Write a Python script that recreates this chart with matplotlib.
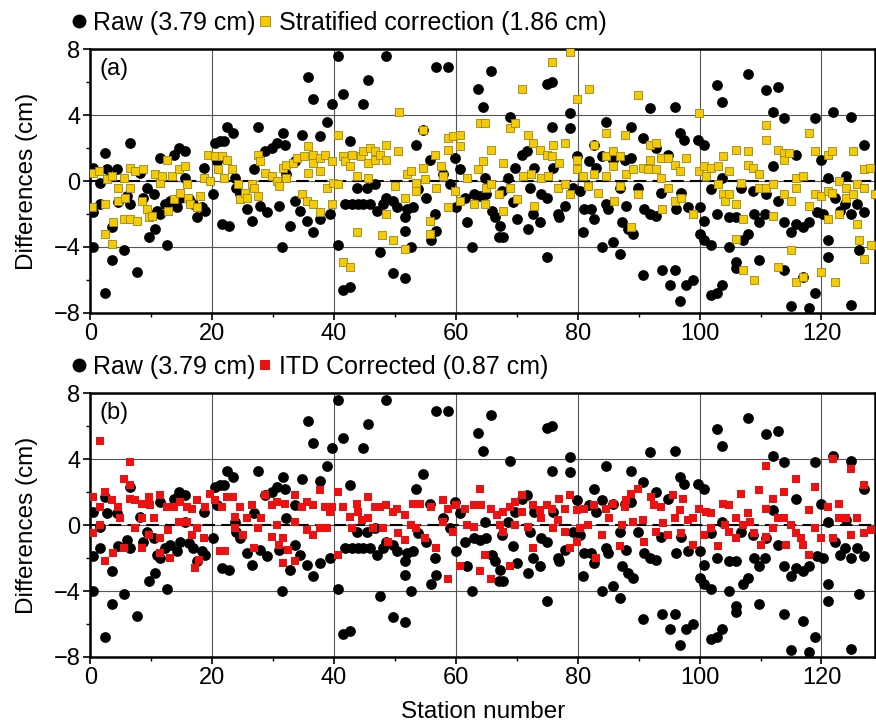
import numpy as np
import matplotlib
matplotlib.use('Agg')
import matplotlib.pyplot as plt
from matplotlib.lines import Line2D
from matplotlib.ticker import MultipleLocator

matplotlib.rcParams['font.family'] = 'sans-serif'
matplotlib.rcParams['font.sans-serif'] = ['Liberation Sans']
matplotlib.rcParams['font.size'] = 17

# Raw differences (station number, cm) - same series in both panels
raw_points = [
    (0.5, 0.8), (0.5, -1.9), (0.5, -4.0), (1.6, -0.1), (1.6, -1.4), (2.5, 1.7), (2.5, -6.8), (2.7, 0.7),
    (3.6, -2.8), (3.6, -4.8), (4.4, 0.7), (4.6, -1.3), (5.5, -4.2), (6.0, -0.9), (6.6, 2.3), (6.6, -1.4),
    (7.7, -5.5), (8.2, 0.5), (8.7, -1.0), (9.3, -0.4), (9.6, -3.4), (10.4, -0.8), (10.7, -2.9), (10.9, -1.8),
    (11.5, 1.4), (11.5, -2.0), (12.3, -1.4), (12.6, -3.9), (13.1, -1.2), (13.7, 1.6), (14.2, -1.6), (14.5, 2.0),
    (14.8, -1.0), (15.6, 1.8), (15.6, 0.2), (16.2, -1.1), (16.9, -1.4), (17.5, -2.2), (18.3, -1.6), (18.6, 0.8),
    (18.9, -1.8), (20.2, -0.8), (20.5, 2.3), (20.8, 1.2), (21.3, 2.4), (21.6, -2.6), (21.9, 2.4), (22.4, 3.3),
    (22.7, -2.7), (23.5, 2.9), (23.8, 0.2), (24.0, -0.4), (24.6, -0.8), (25.7, -1.7), (26.5, -2.4), (26.8, 0.7),
    (27.6, 3.3), (27.9, -1.5), (28.7, 1.8), (29.0, -1.9), (29.8, 2.0), (30.6, 2.3), (30.9, -1.5), (31.4, -4.0),
    (31.7, 2.9), (31.9, 2.2), (32.2, 0.4), (32.8, -2.7), (33.6, 1.2), (33.6, -1.2), (34.4, -1.8), (34.7, 2.8),
    (35.5, -2.4), (35.8, 6.3), (36.6, 5.0), (36.6, -3.1), (37.7, 2.7), (37.7, -2.3), (38.8, 3.6), (39.3, -2.0),
    (39.6, 4.7), (40.7, 7.6), (40.7, -3.9), (41.5, 5.3), (41.5, -6.6), (41.8, -1.4), (42.6, 2.4), (42.6, -6.4),
    (42.9, -1.4), (43.7, -0.4), (44.0, -1.4), (44.8, 4.7), (44.8, -1.4), (45.6, 6.1), (45.4, -0.4), (45.9, -1.4),
    (46.7, -0.2), (47.0, -1.8), (47.5, -4.3), (48.1, -1.4), (48.6, 7.6), (48.6, -1.0), (49.7, -1.2), (49.7, -5.6),
    (50.3, -1.6), (51.6, -2.2), (51.6, -3.0), (51.6, -5.9), (51.9, -1.7), (52.7, -4.0), (53.0, -1.6), (53.5, 2.2),
    (53.8, -0.5), (54.6, 3.1), (55.1, -1.0), (55.7, 1.3), (56.0, -3.6), (56.5, -2.0), (56.8, -3.0), (56.8, 6.9),
    (57.9, 0.4), (58.7, 6.9), (59.0, -0.2), (59.8, 1.4), (60.1, -1.6), (60.7, 0.7), (61.5, -1.0), (61.8, -2.5),
    (62.6, -4.0), (62.9, -0.8), (63.7, 5.6), (64.0, -0.9), (64.5, 4.5), (64.8, 0.2), (65.8, 6.7), (65.0, -0.8),
    (65.9, -1.8), (66.4, -2.2), (67.0, -3.4), (67.2, -2.7), (67.8, -3.4), (67.5, -0.6), (68.6, 0.2), (68.9, 3.9),
    (69.4, -1.3), (69.7, 0.8), (70.0, -2.3), (70.8, 1.6), (71.6, 1.8), (71.9, -2.9), (72.1, -0.4), (72.7, -2.0),
    (72.9, 0.8), (73.8, -2.5), (74.0, -0.8), (74.9, -1.0), (74.9, -4.6), (74.9, 5.9), (75.7, 6.0), (75.7, 3.3),
    (75.9, 0.8), (76.8, -2.0), (77.0, -2.2), (77.9, -1.5), (78.7, 4.1), (78.7, 3.2), (79.2, -0.4), (79.8, 1.5),
    (80.3, -0.6), (80.9, -3.1), (81.1, -1.7), (81.9, 1.2), (82.2, -1.7), (82.7, 2.2), (82.7, -2.3), (83.0, 0.8),
    (83.9, -4.0), (83.9, 1.5), (84.7, 3.6), (84.7, -1.4), (85.0, -1.7), (85.8, 1.3), (85.8, -3.7), (86.9, -4.4),
    (86.9, -0.4), (87.2, -2.5), (87.7, 1.3), (87.9, -1.5), (88.2, -2.9), (88.8, 3.3), (88.8, 1.4), (89.1, -3.2),
    (89.9, -0.4), (90.7, 2.6), (90.7, -5.7), (90.9, -1.7), (91.8, -2.0), (91.8, 4.4), (92.9, 2.0), (92.9, -2.1),
    (93.7, -0.7), (93.9, -5.4), (94.8, 1.6), (95.1, -6.3), (95.9, 4.5), (95.9, -5.4), (96.2, -1.7), (96.7, 2.9),
    (96.7, -7.3), (97.0, -0.7), (97.5, 2.5), (97.8, -6.3), (98.1, -1.6), (98.9, -6.0), (99.7, 2.5), (100.0, -1.6),
    (100.0, -3.2), (100.8, 2.2), (100.8, -2.4), (100.8, -3.6), (101.9, -3.9), (101.9, -0.5), (101.9, -6.9), (102.9, 5.8),
    (102.9, -2.0), (102.9, -6.8), (103.7, 4.8), (103.7, 0.2), (103.7, -6.3), (104.9, -2.2), (104.9, -4.0), (106.0, -2.2),
    (106.0, -4.9), (106.0, -5.3), (106.8, -0.4), (107.1, -3.6), (107.9, 6.5), (107.9, -3.2), (108.7, -0.6), (109.0, -2.0),
    (109.8, -2.5), (109.8, -4.8), (110.7, -2.0), (110.9, 5.5), (110.9, -0.8), (112.0, 4.2), (112.0, 0.9), (112.8, 5.7),
    (112.8, -1.2), (113.9, 3.8), (113.9, -2.5), (113.9, -5.4), (115.0, -3.1), (115.0, -7.6), (115.8, 1.6), (115.8, -2.6),
    (116.9, -2.8), (116.9, -5.8), (118.0, -2.5), (118.0, -7.7), (118.9, 3.8), (118.9, -6.8), (119.2, -1.9), (120.0, 1.3),
    (120.2, -2.0), (121.0, 0.2), (121.0, -3.6), (121.0, -4.6), (121.9, 4.2), (122.2, -1.0), (123.0, -1.8), (123.8, -1.4),
    (124.1, 0.3), (124.9, 3.9), (124.9, -2.0), (124.9, -7.5), (125.9, -1.4), (126.2, -4.2), (127.0, 2.2), (127.0, -1.9),
]

# After stratified correction (panel a)
strat_points = [
    (0.5, 0.5), (1.4, 0.6), (0.3, -1.6), (2.5, -1.4), (2.5, -3.2), (3.6, -3.8), (2.7, 0.1), (3.6, 0.3),
    (3.8, -2.5), (4.6, -1.2), (4.6, -0.4), (5.5, 0.2), (5.5, -2.3), (5.7, -1.0), (6.6, 0.8), (6.6, -0.4),
    (6.6, -2.3), (7.4, 0.6), (7.7, -2.4), (8.5, -1.2), (8.7, 0.7), (9.3, -1.7), (9.6, -2.2), (10.1, -2.1),
    (10.7, 0.4), (11.5, -0.1), (11.8, 0.3), (12.6, 1.3), (12.8, -1.8), (13.4, 0.3), (13.7, -1.1), (14.5, 0.7),
    (14.8, -0.7), (15.6, 0.9), (15.8, -0.2), (16.1, -1.0), (16.4, -1.4), (17.5, -1.6), (18.0, -0.9), (18.6, 0.2),
    (19.4, 1.6), (19.7, 0.0), (20.5, 1.5), (21.0, 0.7), (21.6, 1.5), (21.9, 0.2), (22.4, 1.3), (23.2, 0.7),
    (24.3, -0.2), (24.6, -1.1), (25.4, -0.7), (25.7, -1.0), (26.5, -0.2), (26.8, -0.4), (27.6, 1.6), (27.6, -0.9),
    (27.9, 1.2), (28.7, 0.5), (29.8, 0.3), (30.6, 0.0), (30.9, -0.3), (31.7, 0.8), (32.2, 1.0), (32.2, 0.2),
    (33.3, 1.1), (33.9, 1.4), (34.7, -0.8), (35.0, 1.5), (35.5, -1.2), (35.8, 2.1), (35.8, 0.5), (36.6, 1.6),
    (36.6, 1.1), (36.6, -1.4), (37.7, 0.6), (37.7, -1.9), (37.7, 1.4), (38.5, 1.6), (38.8, -0.4), (39.6, 1.2),
    (39.6, -1.4), (39.9, -0.1), (40.7, 2.8), (40.7, -0.2), (41.5, 1.5), (41.5, -4.9), (41.8, 1.2), (42.6, 0.9),
    (42.6, -5.2), (42.9, 1.6), (43.7, -3.1), (43.7, 0.3), (44.5, 1.5), (44.8, 1.8), (45.6, 1.1), (45.6, 0.2),
    (45.9, 2.0), (46.7, 1.8), (46.7, 1.3), (47.5, 1.6), (47.8, -3.3), (48.6, 2.2), (48.6, 1.3), (48.6, -2.0),
    (49.7, -3.6), (50.0, -0.3), (50.5, 1.8), (50.7, 4.2), (51.6, -1.0), (51.6, -4.1), (51.9, 0.4), (52.7, 0.6),
    (53.5, -0.1), (53.5, -0.6), (54.6, 3.1), (54.6, 0.8), (54.9, 0.1), (55.7, -2.4), (55.7, -3.2), (56.5, 1.6),
    (56.8, -0.4), (57.6, 0.9), (57.9, 0.3), (58.7, 2.6), (58.7, 1.9), (58.7, -1.6), (59.6, 2.7), (59.8, -0.6),
    (60.7, 2.8), (60.7, 2.1), (60.7, -1.2), (61.8, 0.2), (62.9, -1.4), (63.7, 0.7), (63.9, 3.5), (64.8, 3.5),
    (64.5, 1.2), (65.0, -0.4), (64.8, -1.4), (65.8, 1.9), (65.8, -0.2), (67.0, -0.8), (67.8, 1.1), (67.8, -1.8),
    (68.9, 3.2), (68.9, -0.4), (69.7, 3.5), (70.0, -1.1), (70.8, 5.6), (71.0, 0.3), (71.9, 2.8), (72.4, 0.4),
    (72.7, 2.3), (72.9, -1.5), (73.8, 1.9), (74.0, 0.2), (74.9, 1.6), (75.1, 0.3), (75.7, 7.2), (75.7, 1.5),
    (75.9, 2.2), (76.8, -0.4), (77.0, 1.1), (77.9, 2.3), (77.9, -0.2), (78.7, 7.8), (78.7, -0.8), (79.8, 5.0),
    (79.8, 1.3), (79.8, 0.7), (80.9, 0.3), (81.7, -0.3), (81.9, 5.6), (82.7, 2.2), (82.7, 0.4), (83.3, -0.7),
    (84.7, 0.3), (84.7, 2.9), (84.7, 1.5), (85.8, 1.8), (85.8, 0.9), (86.0, -1.2), (86.9, 1.5), (86.9, -0.3),
    (87.7, 2.8), (87.9, 0.4), (88.8, -2.8), (89.1, 0.7), (89.9, 5.2), (89.9, -0.8), (90.7, 0.8), (91.5, 0.7),
    (91.8, 2.2), (91.8, 1.3), (92.9, 2.3), (92.9, 0.7), (93.7, 1.4), (93.7, 0.2), (93.9, -1.7), (94.8, -0.4),
    (94.8, 1.4), (95.9, 1.0), (95.9, -1.2), (96.7, 0.6), (97.0, -1.0), (97.8, 1.4), (98.9, -2.0), (99.9, 4.1),
    (99.9, 0.6), (100.8, 0.9), (101.1, 0.3), (101.9, 0.8), (103.0, 0.9), (103.0, -0.2), (103.8, 1.5), (103.8, -0.8),
    (104.1, -1.2), (104.9, 0.6), (104.9, -0.8), (106.0, 1.9), (106.0, -1.4), (106.0, -3.5), (106.8, -0.1), (107.1, -2.3),
    (107.1, -5.4), (107.9, 1.8), (107.9, 1.0), (108.7, 0.8), (109.0, -6.0), (109.8, 0.4), (109.8, -0.4), (110.9, 3.4),
    (110.9, 2.5), (110.9, -0.4), (112.0, -0.2), (112.0, -2.1), (112.8, 1.9), (112.8, -5.2), (113.9, 1.7), (113.9, 1.3),
    (113.9, -0.8), (114.6, 1.7), (115.0, -1.2), (115.0, -4.2), (115.8, 0.2), (115.8, -0.4), (115.8, -6.1), (116.9, 0.3),
    (116.9, -5.8), (118.0, 2.9), (118.0, -1.5), (118.9, 1.8), (118.9, -0.8), (120.0, -0.9), (120.0, -5.5), (121.0, 1.6),
    (121.0, -0.6), (121.0, -2.3), (121.8, 1.8), (121.8, -0.7), (122.2, -6.1), (122.8, 0.0), (122.8, -2.0), (124.0, -0.4),
    (124.0, -1.0), (125.1, 1.8), (125.1, -0.8), (125.9, -0.2), (125.9, -2.6), (126.2, -3.6), (127.0, 0.7), (127.0, -0.4),
    (127.0, -4.7), (127.9, 0.8), (128.2, -3.9), (128.7, -0.8),
]

# After ITD correction (panel b)
itd_points = [
    (1.6, 5.1), (0.5, 1.7), (0.5, -0.5), (1.6, 1.1), (1.6, 0.0), (2.5, 2.0), (2.5, -2.2), (3.6, 1.5),
    (3.8, -1.7), (4.6, 1.1), (4.9, 0.4), (5.5, 2.8), (6.6, 3.8), (6.6, 2.4), (6.6, 1.6), (5.5, -1.4),
    (7.4, 1.5), (7.4, -0.2), (8.5, 0.4), (8.5, -1.4), (8.5, 1.3), (9.6, 1.7), (9.6, -0.6), (9.8, 1.2),
    (10.4, 0.4), (11.5, 1.8), (11.5, -0.8), (11.5, -1.7), (12.6, 1.1), (12.8, -0.3), (13.1, -2.0), (13.7, 1.1),
    (14.5, 0.2), (14.8, 1.4), (15.8, 1.1), (15.8, 0.2), (16.7, 1.0), (16.7, -0.6), (17.5, 1.5), (17.5, -0.2),
    (17.8, -2.1), (17.2, -2.6), (18.6, -0.8), (18.9, 1.1), (19.7, 1.9), (20.5, 1.5), (21.3, -1.6), (22.1, -1.6),
    (21.6, 1.1), (22.4, 1.7), (23.5, 1.7), (23.8, 0.5), (23.8, -0.2), (24.6, 1.1), (25.1, -0.6), (25.7, 0.4),
    (26.5, 1.2), (26.8, -1.4), (27.6, -0.2), (28.1, 0.4), (28.7, 1.8), (29.8, 1.2), (29.8, -0.7), (30.6, 1.4),
    (30.6, 0.0), (30.9, -1.2), (31.7, -2.3), (32.0, 1.3), (31.7, -0.8), (32.5, -1.5), (33.6, 1.8), (33.6, 0.2),
    (33.6, -2.2), (34.7, 1.1), (35.5, 1.4), (35.5, -0.3), (36.6, 1.2), (36.6, -0.6), (37.7, 2.1), (37.7, -0.2),
    (38.5, 1.1), (38.8, -0.2), (39.3, 0.8), (39.6, 1.1), (40.7, 2.0), (40.7, -1.8), (41.5, 1.1), (42.6, 0.5),
    (42.9, -0.2), (43.7, 1.3), (44.0, 0.8), (44.6, 0.3), (45.6, 1.7), (45.6, 0.4), (46.4, -0.2), (46.7, 1.1),
    (47.5, 1.1), (48.1, -0.2), (48.6, 1.2), (48.9, -1.0), (49.7, 0.8), (50.3, 1.0), (50.5, -0.5), (51.6, 0.6),
    (51.6, -0.9), (52.7, 0.0), (53.0, 1.3), (53.5, -0.2), (54.1, 1.3), (54.9, -0.8), (56.0, 1.1), (56.8, -1.4),
    (57.9, 1.5), (57.9, 0.2), (58.7, 1.0), (58.7, -3.3), (59.6, -0.4), (60.1, 1.2), (60.7, -2.5), (61.5, 1.0),
    (61.8, 0.0), (62.9, 1.2), (62.9, -0.1), (63.9, 2.2), (63.9, -2.8), (64.2, 1.2), (64.8, -1.8), (65.8, 1.0),
    (65.8, -3.3), (66.7, 0.6), (67.2, 0.0), (67.8, -0.4), (67.8, 0.8), (68.9, 1.1), (68.9, -2.5), (69.7, 1.4),
    (69.7, 0.0), (70.8, 1.8), (70.8, 0.8), (71.9, -0.1), (72.7, -1.4), (72.7, 1.2), (73.8, 0.9), (74.0, 0.4),
    (74.9, 1.2), (75.7, 1.0), (75.9, -0.2), (76.8, 0.3), (77.0, 1.6), (77.9, 1.0), (77.9, -0.4), (78.7, 1.8),
    (78.7, -1.4), (79.8, 0.9), (79.8, -1.0), (80.3, -0.2), (81.1, 1.0), (81.7, 0.0), (82.7, 1.2), (83.0, -2.0),
    (83.9, -0.6), (84.7, 1.0), (85.2, 0.4), (85.8, 1.3), (86.9, -1.3), (87.2, 0.0), (87.7, 1.1), (87.9, 1.5),
    (88.8, 1.9), (89.1, 0.2), (89.9, 2.2), (90.7, 0.3), (90.9, -1.0), (92.0, 1.7), (92.5, 1.2), (92.8, -0.4),
    (93.7, 1.1), (94.0, 0.1), (94.8, -0.6), (95.6, 1.8), (95.9, 0.4), (96.7, 0.9), (97.2, 1.6), (97.0, -0.5),
    (98.1, 0.3), (98.9, -1.2), (98.9, 0.4), (99.9, 1.0), (100.8, -0.6), (101.1, 0.8), (101.9, 0.7), (101.9, -0.2),
    (103.0, -1.3), (103.8, 1.3), (104.1, 0.0), (104.9, 1.2), (104.9, -0.4), (106.0, -0.8), (106.0, 0.4), (106.8, 1.9),
    (107.1, 0.0), (107.9, 0.7), (108.2, 0.2), (109.0, -0.5), (109.8, 2.1), (110.1, -1.2), (110.9, 3.6), (110.9, -0.7),
    (110.9, 1.0), (112.0, 1.6), (112.0, -0.2), (112.8, 0.4), (113.9, 2.0), (113.9, 0.4), (114.2, -1.2), (115.0, 0.0),
    (115.8, 2.8), (115.8, -0.5), (116.6, -0.8), (116.9, -1.2), (118.0, -1.8), (118.0, 0.9), (118.9, 2.3), (118.9, -0.2),
    (120.0, -0.8), (121.0, 1.1), (121.9, 4.0), (121.9, -0.8), (122.9, 1.3), (122.9, 0.4), (124.0, 0.4), (124.9, 3.4),
    (124.9, -0.6), (125.9, 0.4), (127.0, 2.4), (127.0, -0.5), (128.1, -0.3),
]

raw_label = 'Raw (3.79 cm)'
strat_label = 'Stratified correction (1.86 cm)'
itd_label = 'ITD Corrected (0.87 cm)'


def style_axis(ax, tag):
    ax.set_xlim(0, 128.8)
    ax.set_ylim(-8, 8)
    ax.xaxis.set_major_locator(MultipleLocator(20))
    ax.xaxis.set_minor_locator(MultipleLocator(10))
    ax.yaxis.set_major_locator(MultipleLocator(4))
    ax.yaxis.set_minor_locator(MultipleLocator(2))
    ax.grid(True, which='major', color='#555555', linewidth=0.8)
    ax.set_axisbelow(True)
    ax.axhline(0, color='black', linestyle=(0, (6, 3)), linewidth=1.5, zorder=2)
    for sp in ax.spines.values():
        sp.set_linewidth(1.8)
    ax.tick_params(which='major', direction='out', length=5, width=1.2, labelsize=17, pad=2)
    ax.tick_params(which='minor', direction='out', length=3, width=1.0)
    ax.set_ylabel('Differences (cm)', fontsize=17.5, labelpad=11)
    ax.text(0.012, 0.965, tag, transform=ax.transAxes, fontsize=17, ha='left', va='top')


def add_legend(ax, handles):
    ax.legend(handles=handles, loc='lower left', bbox_to_anchor=(-0.024, 1.055), ncol=2, frameon=False,
              handlelength=0.6, handletextpad=0.25, columnspacing=0.1, borderpad=0, borderaxespad=0,
              fontsize=18)


fig = plt.figure(figsize=(8.76, 7.27), dpi=100)
ax1 = fig.add_axes([0.103, 0.5695, 0.896, 0.363])
ax2 = fig.add_axes([0.103, 0.0963, 0.896, 0.363])

rx, ry = np.array(raw_points).T
sx, sy = np.array(strat_points).T
ix, iy = np.array(itd_points).T

# panel (a)
style_axis(ax1, '(a)')
ax1.scatter(rx, ry, s=60, color='black', linewidths=0, zorder=3)
ax1.scatter(sx, sy, s=34, marker='s', color='#F5CB00', edgecolors='#9A8520', linewidths=0.6, zorder=4)
add_legend(ax1, [
    Line2D([0], [0], marker='o', color='w', markerfacecolor='black', markeredgewidth=0, markersize=10, label=raw_label),
    Line2D([0], [0], marker='s', color='w', markerfacecolor='#F5CB00', markeredgecolor='#9A8520',
           markeredgewidth=0.6, markersize=7, label=strat_label)])

# panel (b)
style_axis(ax2, '(b)')
ax2.scatter(rx, ry, s=60, color='black', linewidths=0, zorder=3)
ax2.scatter(ix, iy, s=28, marker='s', color='#EE1111', linewidths=0, zorder=4)
add_legend(ax2, [
    Line2D([0], [0], marker='o', color='w', markerfacecolor='black', markeredgewidth=0, markersize=10, label=raw_label),
    Line2D([0], [0], marker='s', color='w', markerfacecolor='#EE1111', markeredgewidth=0, markersize=7, label=itd_label)])
ax2.set_xlabel('Station number', fontsize=17.5, labelpad=9)

fig.savefig('out.png', dpi=100, facecolor='white')
